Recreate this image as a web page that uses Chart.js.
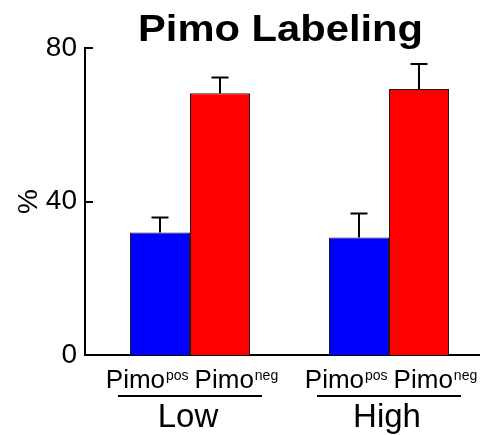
<!DOCTYPE html>
<html>
<head>
<meta charset="utf-8">
<script src="https://cdn.jsdelivr.net/npm/chart.js@4"></script>
<style>
  html, body { margin: 0; padding: 0; background: #fff; }
  #wrap { width: 480px; height: 435px; }
</style>
</head>
<body>
<div id="wrap"><canvas id="c" width="480" height="435"></canvas></div>
<script>
// ---- data ----
const categories = ['Low', 'High'];
const seriesNames = ['pos', 'neg'];
const posValues = [31.9, 30.6];
const posErrors = [3.9, 6.3];
const negValues = [68.2, 69.3];
const negErrors = [4.1, 6.5];
const yTicks = [0, 40, 80];
const titleText = 'Pimo Labeling';
const yTitle = '%';
const labelStem = 'Pimo';

const FONT = "'Liberation Sans', Arial, sans-serif";

const toPoints = (vals) => vals.map((v, i) => ({ x: i, y: v }));

const errorBars = {
  id: 'errorBars',
  afterDatasetsDraw(chart) {
    const ctx = chart.ctx;
    const yScale = chart.scales.y;
    const errs = [posErrors, negErrors];
    const vals = [posValues, negValues];
    ctx.save();
    ctx.strokeStyle = '#000';
    ctx.lineWidth = 2;
    chart.data.datasets.forEach((ds, d) => {
      const meta = chart.getDatasetMeta(d);
      meta.data.forEach((bar, i) => {
        const top = bar.y;
        const end = yScale.getPixelForValue(vals[d][i] + errs[d][i]);
        ctx.beginPath();
        ctx.moveTo(bar.x, top);
        ctx.lineTo(bar.x, end);
        ctx.moveTo(bar.x - 8.5, end);
        ctx.lineTo(bar.x + 8.5, end);
        ctx.stroke();
      });
    });
    ctx.restore();
  }
};

const decorations = {
  id: 'decorations',
  afterDraw(chart) {
    const ctx = chart.ctx;
    const area = chart.chartArea;
    const yScale = chart.scales.y;
    const xScale = chart.scales.x;
    ctx.save();
    // inward y ticks
    ctx.strokeStyle = '#000';
    ctx.lineWidth = 2;
    yTicks.forEach(t => {
      const y = Math.round(yScale.getPixelForValue(t));
      ctx.beginPath();
      ctx.moveTo(area.left, y);
      ctx.lineTo(area.left + 8, y);
      ctx.stroke();
    });
    // title
    ctx.fillStyle = '#000';
    ctx.font = 'bold 37px ' + FONT;
    ctx.textBaseline = 'alphabetic';
    ctx.textAlign = 'left';
    const tw = ctx.measureText(titleText).width;
    const targetW = 285;
    const sx = targetW / tw;
    const cx = (area.left + area.right) / 2 - 2;
    ctx.save();
    ctx.translate(cx - targetW / 2, 41);
    ctx.scale(sx, 1);
    ctx.fillText(titleText, 0, 0);
    ctx.restore();
    // x labels
    categories.forEach((cat, i) => {
      const gx = xScale.getPixelForValue(i);
      const mainFont = '26px ' + FONT;
      const supFont = '14px ' + FONT;
      ctx.font = mainFont;
      const wMain = ctx.measureText(labelStem).width;
      ctx.font = supFont;
      const wSup = seriesNames.map(s => ctx.measureText(s).width);
      const gap = 6;
      const total = wMain * 2 + wSup[0] + wSup[1] + gap + 2;
      let x = gx - total / 2 + 2;
      ctx.textAlign = 'left';
      seriesNames.forEach((s, k) => {
        ctx.font = mainFont;
        ctx.fillText(labelStem, x, 388);
        x += wMain + 1;
        ctx.font = supFont;
        ctx.fillText(s, x, 380);
        x += wSup[k] + gap;
      });
      // underline
      ctx.beginPath();
      ctx.lineWidth = 2;
      ctx.moveTo(gx - 72, 396);
      ctx.lineTo(gx + 72, 396);
      ctx.stroke();
      // group name
      ctx.font = '33px ' + FONT;
      ctx.textAlign = 'center';
      ctx.fillText(cat, gx - 2, 427);
    });
    ctx.restore();
  }
};

new Chart(document.getElementById('c'), {
  type: 'bar',
  data: {
    datasets: [
      {
        label: 'Pimo pos',
        data: toPoints(posValues),
        backgroundColor: '#0000FF',
        borderColor: '#1a1a1a',
        borderWidth: 1,
        borderSkipped: 'bottom'
      },
      {
        label: 'Pimo neg',
        data: toPoints(negValues),
        backgroundColor: '#FF0000',
        borderColor: '#1a1a1a',
        borderWidth: 1,
        borderSkipped: 'bottom'
      }
    ]
  },
  options: {
    responsive: false,
    animation: false,
    devicePixelRatio: 1,
    categoryPercentage: 0.603,
    barPercentage: 1,
    layout: { padding: { top: 48, bottom: 80, right: 0, left: 0 } },
    plugins: {
      legend: { display: false },
      title: { display: false },
      tooltip: { enabled: false }
    },
    scales: {
      x: {
        type: 'linear',
        offset: false,
        min: -0.5276,
        max: 1.4573,
        afterBuildTicks: (scale) => { scale.ticks = categories.map((c, i) => ({ value: i })); },
        ticks: { display: false },
        grid: { display: false, drawTicks: false, offset: false },
        border: { display: true, color: '#000', width: 2 }
      },
      y: {
        min: 0,
        max: 80,
        afterBuildTicks: (scale) => { scale.ticks = yTicks.map(v => ({ value: v })); },
        afterFit: (scale) => { scale.width = 85; },
        ticks: {
          color: '#000',
          font: { family: FONT, size: 28 },
          padding: 8
        },
        grid: { display: false, drawTicks: false },
        border: { display: true, color: '#000', width: 2 },
        title: {
          display: true,
          text: yTitle,
          color: '#000',
          font: { family: FONT, size: 28 },
          padding: { top: 12, bottom: 0 }
        }
      }
    }
  },
  plugins: [errorBars, decorations]
});
</script>
</body>
</html>
